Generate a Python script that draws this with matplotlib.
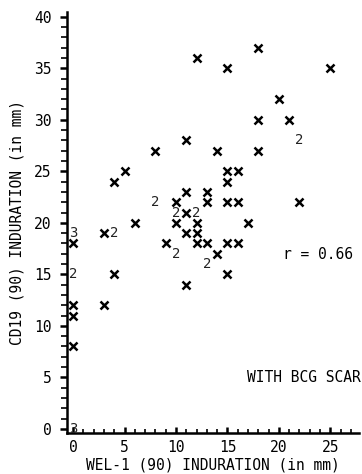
import matplotlib
matplotlib.use("Agg")
import matplotlib.pyplot as plt
from matplotlib.ticker import MultipleLocator

# single points, drawn as x
wel_x = [18, 12, 15, 25, 20, 18, 21, 11, 8, 14, 18, 5, 15, 16, 4, 15, 11, 13,
         10, 13, 15, 16, 22, 6, 10, 12, 17, 3, 11, 12, 11, 0, 9, 12, 13, 15, 16,
         14, 4, 15, 11, 3, 0, 0, 0]
cd19_y = [37, 36, 35, 35, 32, 30, 30, 28, 27, 27, 27, 25, 25, 25, 24, 24, 23, 23,
          22, 22, 22, 22, 22, 20, 20, 20, 20, 19, 19, 19, 21, 18, 18, 18, 18, 18, 18,
          17, 15, 15, 14, 12, 12, 11, 8]

# coincident points, drawn as the count
multi_x = [22, 8, 10, 12, 4, 10, 13, 0, 0, 0]
multi_y = [28, 22, 21, 21, 19, 17, 16, 15, 19, 0]
multi_n = ['2', '2', '2', '2', '2', '2', '2', '2', '3', '3']

x_ticks = [0, 5, 10, 15, 20, 25]
y_ticks = [0, 5, 10, 15, 20, 25, 30, 35, 40]

font = 'DejaVu Sans Mono'

fig = plt.figure(figsize=(3.62, 4.74), dpi=100)
ax = fig.add_axes([0.185, 0.0865, 0.807, 0.889])

ax.plot(wel_x, cd19_y, linestyle='none', marker='x', color='black',
        markersize=5.5, markeredgewidth=1.8)
for xv, yv, n in zip(multi_x, multi_y, multi_n):
    ax.text(xv, yv, n, ha='center', va='center', fontsize=10,
            family=font, color='#222222')

ax.set_xlim(-0.6, 27.8)
ax.set_ylim(-0.4, 40.5)
ax.set_xticks(x_ticks)
ax.set_yticks(y_ticks)
ax.xaxis.set_minor_locator(MultipleLocator(1))
ax.yaxis.set_minor_locator(MultipleLocator(1))

for s in ['top', 'right']:
    ax.spines[s].set_visible(False)
for s in ['left', 'bottom']:
    ax.spines[s].set_linewidth(1.8)

ax.tick_params(axis='y', which='major', direction='out', length=5, width=1.8, pad=6)
ax.tick_params(axis='y', which='minor', direction='out', length=4, width=1.2)
ax.tick_params(axis='x', which='major', direction='in', length=4, width=1.8, pad=5)
ax.tick_params(axis='x', which='minor', direction='in', length=3, width=1.2)
for lab in ax.get_xticklabels() + ax.get_yticklabels():
    lab.set_family(font)
    lab.set_fontsize(10.5)

ax.set_xlabel('WEL-1 (90) INDURATION (in mm)', family=font, fontsize=10.5, labelpad=2)
ax.set_ylabel('CD19 (90) INDURATION (in mm)', family=font, fontsize=10.5, labelpad=7)

ax.text(20.4, 16.9, 'r = 0.66', family=font, fontsize=10.5, va='center')
ax.text(16.9, 5.0, 'WITH BCG SCAR', family=font, fontsize=10.5, va='center')

fig.savefig('out.png', dpi=100)
